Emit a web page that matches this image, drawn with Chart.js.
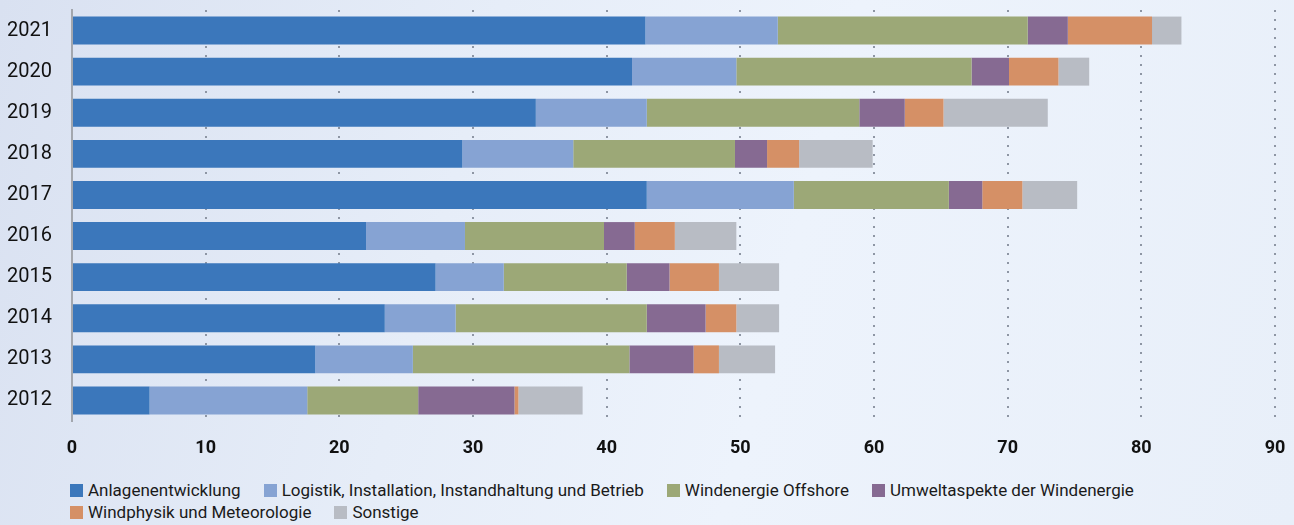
<!DOCTYPE html>
<html>
<head>
<meta charset="utf-8">
<script src="https://cdn.jsdelivr.net/npm/chart.js@4"></script>
<style>
  html, body { margin: 0; padding: 0; }
  body {
    width: 1294px; height: 525px; overflow: hidden; position: relative;
    background: linear-gradient(105deg, #d9e1f1 0%, #e6edf8 35%, #edf3fc 60%, #e8eff9 100%);
    font-family: Roboto, "Noto Sans", sans-serif;
  }
  #wrap { position: absolute; left: 0; top: 0; width: 1294px; height: 460px; }
  #legend {
    position: absolute; left: 70px; top: 479px; width: 1224px;
    display: flex; flex-wrap: wrap; column-gap: 23px;
    font-size: 17px; line-height: 22px; color: #1a1a1a;
  }
  #legend span.item { display: inline-flex; align-items: center; white-space: nowrap; }
  #legend span.box { width: 13px; height: 13px; margin-right: 5px; display: inline-block; }
</style>
</head>
<body>
<div id="wrap"><canvas id="chart"></canvas></div>
<div id="legend"></div>
<script>
// categories top to bottom
const years = ['2021', '2020', '2019', '2018', '2017', '2016', '2015', '2014', '2013', '2012']

const anlagenentwicklung = [42.9, 41.9, 34.7, 29.2, 43.0, 22.0, 27.2, 23.4, 18.2, 5.8]
const logistik = [9.9, 7.8, 8.3, 8.3, 11.0, 7.4, 5.1, 5.3, 7.3, 11.8]
const offshore = [18.7, 17.6, 15.9, 12.1, 11.6, 10.4, 9.2, 14.3, 16.2, 8.3]
const umwelt = [3.0, 2.8, 3.4, 2.4, 2.5, 2.3, 3.2, 4.4, 4.8, 7.2]
const windphysik = [6.3, 3.7, 2.9, 2.4, 3.0, 3.0, 3.7, 2.3, 1.9, 0.3]
const sonstige = [2.2, 2.3, 7.8, 5.5, 4.1, 4.6, 4.5, 3.2, 4.2, 4.8]

const xTicks = [0, 10, 20, 30, 40, 50, 60, 70, 80, 90]

const series = [
  { label: 'Anlagenentwicklung', data: anlagenentwicklung, color: '#3b77bb' },
  { label: 'Logistik, Installation, Instandhaltung und Betrieb', data: logistik, color: '#86a3d3' },
  { label: 'Windenergie Offshore', data: offshore, color: '#9ca877' },
  { label: 'Umweltaspekte der Windenergie', data: umwelt, color: '#866a92' },
  { label: 'Windphysik und Meteorologie', data: windphysik, color: '#d59066' },
  { label: 'Sonstige', data: sonstige, color: '#b8bcc4' }
]

const ctx = document.getElementById('chart').getContext('2d')
const chart = new Chart(ctx, {
  type: 'bar',
  data: {
    labels: years,
    datasets: series.map(s => ({
      label: s.label,
      data: s.data,
      backgroundColor: s.color,
      borderWidth: 0,
      barPercentage: 0.68,
      categoryPercentage: 1
    }))
  },
  options: {
    indexAxis: 'y',
    responsive: true,
    maintainAspectRatio: false,
    animation: false,
    layout: { padding: { top: 10, right: 19, left: 0, bottom: 0 } },
    plugins: {
      legend: { display: false },
      tooltip: { enabled: false }
    },
    scales: {
      x: {
        stacked: true,
        min: 0,
        max: 90,
        afterBuildTicks: (axis) => {
          axis.ticks = xTicks.map(v => ({ value: v }))
        },
        afterFit: (axis) => {
          axis.height = 39
          axis.paddingLeft = 0
          axis.paddingRight = 0
        },
        border: { display: false, dash: [2, 7] },
        grid: {
          color: '#8e96a4',
          lineWidth: 2,
          drawTicks: false
        },
        ticks: {
          padding: 17,
          color: '#111',
          font: { family: 'Roboto', size: 18, weight: 'bold' }
        }
      },
      y: {
        stacked: true,
        afterFit: (axis) => {
          axis.width = 72
          axis.paddingTop = 0
          axis.paddingBottom = 0
        },
        border: { display: true, color: '#a3a7ae', width: 2 },
        grid: { display: false, drawTicks: false },
        ticks: {
          padding: 20,
          color: '#111',
          font: { family: 'Roboto', size: 20 }
        }
      }
    }
  }
})

// legend built from the chart datasets
const legend = document.getElementById('legend')
chart.data.datasets.forEach(ds => {
  const item = document.createElement('span')
  item.className = 'item'
  const box = document.createElement('span')
  box.className = 'box'
  box.style.background = ds.backgroundColor
  item.appendChild(box)
  item.appendChild(document.createTextNode(ds.label))
  legend.appendChild(item)
})
</script>
</body>
</html>
